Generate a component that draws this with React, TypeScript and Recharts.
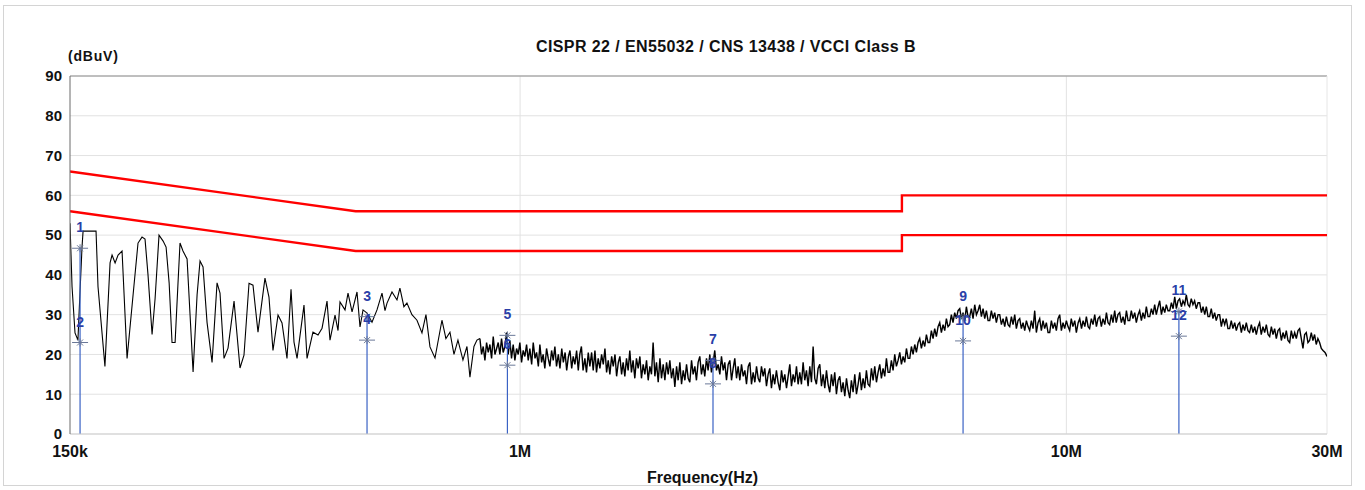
import React from 'react';
import {
    ComposedChart,
    Line,
    XAxis,
    YAxis,
    CartesianGrid,
    ReferenceLine,
    ReferenceDot
} from 'recharts';

// frequency in MHz, level in dBuV
const xTicks = [0.15, 1, 10, 30];
const xTickLabels = ['150k', '1M', '10M', '30M'];
const yTicks = [0, 10, 20, 30, 40, 50, 60, 70, 80, 90];

const qpLimit: [number, number][] = [[0.15, 66], [0.5, 56], [5, 56], [5, 60], [30, 60]];
const avLimit: [number, number][] = [[0.15, 56], [0.5, 46], [5, 46], [5, 50], [30, 50]];

// 150k - 840k, the ringing part of the scan
const traceLow: [number, number][] = [
    [0.150, 53], [0.1513, 37], [0.1532, 25.4], [0.1551, 23.6], [0.1565, 36], [0.1578, 47],
    [0.1585, 51], [0.1674, 51], [0.1688, 37], [0.1738, 17], [0.1776, 43], [0.1791, 45],
    [0.1814, 43], [0.1837, 45], [0.1868, 46], [0.1908, 19], [0.1957, 35], [0.1998, 48],
    [0.2032, 49.5], [0.2058, 49], [0.2084, 40], [0.2120, 25], [0.2147, 34], [0.2183, 50],
    [0.2221, 48.5], [0.2249, 47], [0.2278, 38], [0.2306, 23], [0.2336, 23], [0.2365, 38],
    [0.2385, 48], [0.2415, 46], [0.2457, 44], [0.2488, 30], [0.2520, 15.6], [0.2563, 35],
    [0.2595, 43.5], [0.2628, 42], [0.2673, 28], [0.2730, 18], [0.2788, 38], [0.2823, 35.4],
    [0.2871, 19], [0.2920, 21.6], [0.2995, 33.4], [0.3071, 16.6], [0.3123, 19.8], [0.3190, 37.9],
    [0.3244, 37.4], [0.3313, 25.6], [0.3412, 39.2], [0.3470, 34.4], [0.3529, 21], [0.3605, 29.9],
    [0.3666, 27.9], [0.3744, 19], [0.3808, 36.4], [0.3856, 23.1], [0.3906, 19], [0.4022, 32.4],
    [0.4074, 19], [0.4177, 25.6], [0.4267, 24.9], [0.4340, 26.6], [0.4432, 33.4], [0.4488, 23.6],
    [0.4584, 29.9], [0.4642, 26], [0.4681, 33.2], [0.4781, 31.2], [0.4842, 35.4], [0.4925, 30.7],
    [0.5029, 35.7], [0.5093, 26.9], [0.5158, 31.2], [0.5246, 30.4], [0.5357, 28.1], [0.5471, 31.2],
    [0.5588, 35.4], [0.5659, 31], [0.5707, 32.9], [0.5828, 35.7], [0.5952, 33.7], [0.6026, 36.7],
    [0.6128, 32], [0.6207, 32.9], [0.6339, 30], [0.6475, 28.6], [0.6613, 25.4], [0.6725, 30],
    [0.6840, 21.9], [0.6986, 19.1], [0.7194, 28.6], [0.7316, 24], [0.7441, 25.6], [0.7568, 20],
    [0.7696, 23.6], [0.7860, 18.6], [0.7994, 22], [0.8095, 14.3], [0.8233, 22], [0.8338, 23.6]
];

// 840k - 30M, the noise floor
const traceHigh: [number, number][] = [
    [0.8442, 24], [0.8502, 20], [0.8561, 22], [0.8622, 18.5], [0.8683, 23], [0.8744, 20.5],
    [0.8806, 22.5], [0.8868, 19], [0.8930, 24.5], [0.8994, 20], [0.9058, 21.5], [0.9120, 23],
    [0.9183, 20], [0.9248, 24], [0.9312, 20.5], [0.9379, 22], [0.9446, 25.5], [0.9512, 20],
    [0.9579, 23.5], [0.9646, 19], [0.9714, 22.5], [0.9783, 18.5], [0.9853, 21.5], [0.9922, 20],
    [0.9991, 23], [1.0062, 18], [1.0132, 21], [1.0205, 19.5], [1.0277, 22.5], [1.0349, 18.5],
    [1.042, 21.5], [1.050, 17.5], [1.057, 23], [1.065, 19], [1.072, 20.5], [1.080, 17],
    [1.087, 22.5], [1.095, 18], [1.102, 20], [1.110, 16.5], [1.118, 21.5], [1.126, 19],
    [1.134, 17], [1.142, 21], [1.150, 18.5], [1.158, 22], [1.166, 17], [1.175, 20],
    [1.183, 16.5], [1.192, 21.5], [1.200, 18], [1.209, 20.5], [1.217, 16], [1.226, 19.5],
    [1.234, 21], [1.243, 16.5], [1.251, 19.5], [1.260, 17.5], [1.269, 21], [1.278, 16],
    [1.286, 20], [1.295, 22], [1.304, 16], [1.314, 19], [1.323, 15.5], [1.333, 20.5],
    [1.342, 17], [1.352, 20.5], [1.361, 16], [1.371, 21], [1.380, 15.5], [1.390, 19],
    [1.400, 16.5], [1.410, 20], [1.420, 17.5], [1.430, 21.5], [1.440, 15.5], [1.450, 18.5],
    [1.460, 15], [1.471, 19.5], [1.481, 17], [1.492, 20], [1.502, 14.5], [1.513, 18],
    [1.523, 19.5], [1.534, 15], [1.544, 18], [1.555, 14.5], [1.566, 19], [1.577, 16],
    [1.588, 21], [1.599, 15.5], [1.610, 18.5], [1.622, 14], [1.633, 19], [1.645, 16.5],
    [1.657, 19.5], [1.668, 14], [1.680, 17.5], [1.692, 15], [1.704, 18.5], [1.716, 13.5],
    [1.728, 17], [1.740, 15], [1.752, 23], [1.765, 14.5], [1.777, 18], [1.790, 13],
    [1.803, 19], [1.815, 14], [1.828, 17.5], [1.841, 13.5], [1.854, 18], [1.867, 15],
    [1.880, 18.5], [1.893, 14], [1.907, 16.5], [1.920, 11.8], [1.934, 17], [1.947, 13.5],
    [1.961, 18], [1.975, 12.5], [1.989, 16], [2.003, 13.5], [2.017, 17.5], [2.031, 14],
    [2.045, 13], [2.060, 18.5], [2.074, 15], [2.089, 17], [2.103, 13.5], [2.118, 18],
    [2.133, 19.5], [2.148, 15], [2.163, 17.5], [2.178, 14.5], [2.194, 19], [2.209, 16],
    [2.225, 20], [2.240, 15.5], [2.256, 18], [2.272, 21], [2.288, 16], [2.304, 17.5],
    [2.321, 15], [2.337, 19.5], [2.354, 16], [2.370, 18], [2.387, 13.5], [2.404, 17.5],
    [2.421, 18.5], [2.438, 13.5], [2.455, 16.5], [2.472, 19], [2.490, 14], [2.507, 17],
    [2.525, 13.5], [2.543, 17.5], [2.561, 14.5], [2.579, 16], [2.597, 12.5], [2.616, 17],
    [2.634, 18], [2.652, 12.5], [2.671, 15.5], [2.690, 13], [2.709, 17], [2.728, 14],
    [2.747, 13], [2.766, 17], [2.786, 14.5], [2.805, 16.5], [2.825, 12], [2.845, 15],
    [2.865, 16.5], [2.885, 11.5], [2.905, 15], [2.925, 12.5], [2.946, 16], [2.967, 13],
    [2.989, 11], [3.010, 16], [3.031, 13], [3.052, 15], [3.074, 11.5], [3.095, 14.5],
    [3.117, 17.5], [3.139, 12], [3.161, 15], [3.183, 13], [3.206, 17], [3.228, 12.5],
    [3.251, 15.5], [3.274, 12.5], [3.297, 18], [3.320, 13.5], [3.344, 16], [3.367, 12],
    [3.391, 17], [3.415, 13], [3.439, 22], [3.463, 14], [3.487, 12.5], [3.512, 16.5],
    [3.537, 17.5], [3.562, 12], [3.587, 15], [3.612, 11.5], [3.638, 16], [3.663, 12.5],
    [3.689, 10.5], [3.715, 15], [3.741, 12], [3.767, 15.5], [3.794, 10], [3.821, 13.5],
    [3.848, 14.5], [3.875, 10.5], [3.902, 13], [3.930, 9.5], [3.958, 14], [3.985, 11],
    [4.013, 9], [4.041, 13.5], [4.070, 10.5], [4.099, 15], [4.128, 10], [4.157, 12.5],
    [4.186, 15.5], [4.215, 11], [4.245, 14], [4.275, 11.5], [4.305, 16], [4.335, 12.5],
    [4.366, 12], [4.397, 16.5], [4.428, 13.5], [4.459, 17], [4.491, 13], [4.522, 15.5],
    [4.554, 17.5], [4.586, 14], [4.618, 16.5], [4.651, 14.5], [4.684, 19], [4.717, 15.5],
    [4.750, 15.5], [4.783, 18.5], [4.817, 16], [4.851, 20], [4.885, 17], [4.920, 18.5],
    [4.955, 20.5], [4.990, 17.5], [5.025, 19.5], [5.060, 18], [5.096, 21.5], [5.132, 19],
    [5.168, 19], [5.204, 22], [5.241, 20], [5.278, 22.5], [5.315, 20.5], [5.352, 23],
    [5.390, 24], [5.428, 21.5], [5.466, 23.5], [5.505, 22], [5.544, 25], [5.583, 23],
    [5.622, 23], [5.661, 26], [5.701, 24], [5.741, 26.5], [5.782, 24.5], [5.823, 27],
    [5.864, 28], [5.905, 25.5], [5.947, 27.5], [5.989, 26], [6.031, 29], [6.073, 27],
    [6.116, 27.5], [6.159, 30], [6.202, 28], [6.246, 30.5], [6.290, 29], [6.335, 31],
    [6.380, 31.5], [6.425, 29], [6.470, 30.5], [6.515, 28.5], [6.561, 32], [6.607, 29.5],
    [6.654, 29.5], [6.701, 31.5], [6.748, 29], [6.796, 32.5], [6.844, 30], [6.892, 31],
    [6.941, 32.5], [6.990, 29.5], [7.039, 31.5], [7.089, 29], [7.139, 31], [7.189, 28.5],
    [7.239, 28.5], [7.290, 31], [7.341, 29], [7.393, 30.5], [7.445, 28], [7.498, 30],
    [7.551, 30], [7.605, 27.5], [7.658, 29], [7.712, 27], [7.766, 29.5], [7.821, 27.5],
    [7.876, 27], [7.932, 29.5], [7.987, 27.5], [8.044, 30], [8.100, 26.5], [8.158, 28.5],
    [8.215, 29], [8.273, 26.5], [8.331, 28], [8.390, 26], [8.449, 28.5], [8.509, 27],
    [8.568, 26], [8.629, 28.5], [8.689, 26.5], [8.751, 31], [8.812, 25.5], [8.875, 28],
    [8.937, 29], [9.000, 26], [9.063, 28.5], [9.127, 26.5], [9.191, 28], [9.257, 25.5],
    [9.322, 25.5], [9.388, 28.5], [9.454, 26.5], [9.521, 28], [9.587, 26], [9.655, 29],
    [9.723, 30], [9.792, 26], [9.860, 28], [9.930, 26.5], [10.00, 28.5], [10.07, 27],
    [10.14, 26], [10.21, 29], [10.28, 27], [10.36, 28.5], [10.43, 25.5], [10.51, 28],
    [10.58, 29], [10.66, 26.5], [10.73, 28.5], [10.81, 27], [10.88, 29.5], [10.96, 27],
    [11.03, 26.5], [11.11, 29], [11.19, 27.5], [11.27, 30], [11.35, 27], [11.43, 29],
    [11.51, 29.5], [11.59, 27], [11.67, 29], [11.76, 27.5], [11.84, 30.5], [11.92, 28],
    [12.00, 27.5], [12.09, 30], [12.17, 28], [12.26, 31], [12.34, 28], [12.43, 30],
    [12.52, 30.5], [12.61, 28], [12.70, 29.5], [12.79, 27.5], [12.88, 31], [12.97, 28.5],
    [13.06, 28.5], [13.15, 31], [13.24, 29], [13.34, 30.5], [13.43, 28], [13.53, 30],
    [13.62, 31], [13.72, 28.5], [13.81, 30.5], [13.91, 29], [14.01, 32], [14.11, 29.5],
    [14.21, 29.5], [14.31, 31.5], [14.41, 30], [14.51, 32.5], [14.61, 30], [14.72, 32],
    [14.82, 33.5], [14.93, 30], [15.03, 32], [15.14, 30.5], [15.24, 32.5], [15.35, 31],
    [15.46, 31], [15.57, 33], [15.68, 31.5], [15.79, 34.5], [15.90, 31.5], [16.01, 33.5],
    [16.12, 34], [16.24, 32], [16.35, 33.5], [16.47, 32.5], [16.58, 35], [16.70, 32.5],
    [16.81, 32], [16.93, 34], [17.05, 32.5], [17.17, 33.5], [17.29, 31.5], [17.42, 33],
    [17.54, 33], [17.67, 30.5], [17.79, 32], [17.92, 30], [18.04, 32], [18.17, 29.5],
    [18.29, 29.5], [18.42, 31.5], [18.55, 29], [18.68, 30.5], [18.81, 28.5], [18.95, 30],
    [19.08, 30], [19.22, 27], [19.35, 29], [19.49, 27.5], [19.62, 29], [19.76, 26.5],
    [19.90, 26.5], [20.04, 28.5], [20.18, 26.5], [20.33, 28], [20.47, 26], [20.62, 27.5],
    [20.76, 28], [20.91, 25.5], [21.05, 27.5], [21.20, 26], [21.35, 28], [21.50, 26],
    [21.65, 25.5], [21.81, 27.5], [21.96, 25.5], [22.12, 27], [22.27, 25], [22.43, 27],
    [22.58, 28], [22.74, 25], [22.90, 27], [23.07, 25.5], [23.23, 27.5], [23.40, 25],
    [23.56, 24.5], [23.73, 27], [23.89, 25], [24.06, 26.5], [24.23, 24], [24.40, 26],
    [24.57, 26.5], [24.75, 23.5], [24.92, 25.5], [25.10, 24], [25.27, 26], [25.45, 23.5],
    [25.63, 23], [25.81, 26], [25.99, 24], [26.18, 25.5], [26.36, 24], [26.55, 26],
    [26.73, 26.5], [26.92, 24], [27.11, 21.5], [27.30, 25], [27.49, 25.5], [27.69, 23],
    [27.88, 23.5], [28.08, 25.5], [28.27, 23.5], [28.47, 25], [28.67, 22.5], [28.87, 24],
    [29.08, 23], [29.29, 21.5], [29.50, 21], [29.75, 20.5], [30.00, 19.5]
];

// marker pairs: odd = QP reading, even = AV reading at the same frequency
const markerFreqs = [0.1565, 0.5246, 0.948, 2.255, 6.47, 16.07];
const markerQP = [46.7, 29.5, 24.8, 18.5, 29.3, 30.8];
const markerAV = [23.0, 23.6, 17.3, 12.6, 23.4, 24.6];

const toRows = (pts: [number, number][]) => pts.map(([f, v]) => ({ f, v }));
// low part ends on the first noise-floor point so the two strokes join
const lowData = toRows([...traceLow, traceHigh[0]]);
const highData = toRows(traceHigh);
const qpData = toRows(qpLimit);
const avData = toRows(avLimit);

const FONT = "'Liberation Sans', Arial, sans-serif";
const MARKER_BLUE = '#3a62c4';
const LABEL_BLUE = '#2a3fa8';

const Star = (props: any) => {
    const { cx, cy } = props;
    if (cx == null || cy == null) return null;
    return (
        <g stroke="#6a7898" strokeWidth={1}>
            <line x1={cx - 8} y1={cy} x2={cx + 8} y2={cy} />
            <line x1={cx - 3} y1={cy - 3} x2={cx + 3} y2={cy + 3} />
            <line x1={cx - 3} y1={cy + 3} x2={cx + 3} y2={cy - 3} />
            <line x1={cx} y1={cy - 4} x2={cx} y2={cy + 4} />
        </g>
    );
};

const App: React.FC = () => {
    const markerLabel = (n: number) => ({
        value: String(n),
        position: 'top' as const,
        offset: 12,
        fill: LABEL_BLUE,
        fontSize: 14,
        fontWeight: 'bold',
        fontFamily: FONT
    });

    return (
        <div style={{ position: 'absolute', left: 0, top: 0, width: 1365, height: 490, background: '#fff', fontFamily: FONT }}>
            <div style={{ position: 'absolute', left: 3, top: 5, width: 1349, height: 481, border: '1px solid #d4d4d4', boxSizing: 'border-box' }} />
            <div style={{ position: 'absolute', left: 536, top: 38, fontSize: 16, letterSpacing: 0.4, fontWeight: 'bold', color: '#111', whiteSpace: 'nowrap' }}>
                CISPR 22 / EN55032 / CNS 13438 / VCCI Class B
            </div>
            <div style={{ position: 'absolute', left: 68, top: 48, fontSize: 14, letterSpacing: 0.8, fontWeight: 'bold', color: '#111' }}>
                (dBuV)
            </div>
            <div style={{ position: 'absolute', left: 0, width: 1405, top: 469, textAlign: 'center', fontSize: 16, fontWeight: 'bold', color: '#111' }}>
                Frequency(Hz)
            </div>
            <div style={{ position: 'absolute', left: 0, top: 0 }}>
                <ComposedChart width={1365} height={490} margin={{ top: 76, right: 38, bottom: 26, left: 30 }}>
                    <CartesianGrid vertical={false} stroke="#e2e2e2" />
                    <XAxis
                        dataKey="f"
                        type="number"
                        scale="log"
                        domain={[0.15, 30]}
                        allowDataOverflow
                        ticks={xTicks}
                        tickFormatter={(v: number) => xTickLabels[xTicks.indexOf(v)] ?? ''}
                        height={30}
                        tickLine={false}
                        tickMargin={6}
                        axisLine={{ stroke: '#cfcfcf' }}
                        tick={{ fill: '#111', fontSize: 16, fontWeight: 'bold', fontFamily: FONT }}
                    />
                    <YAxis
                        type="number"
                        domain={[0, 90]}
                        ticks={yTicks}
                        width={40}
                        tickLine={false}
                        axisLine={{ stroke: '#6a6a6a' }}
                        tick={{ fill: '#111', fontSize: 15, fontWeight: 'bold', fontFamily: FONT }}
                    />
                    <ReferenceLine x={1} stroke="#e2e2e2" />
                    <ReferenceLine x={10} stroke="#e2e2e2" />
                    <ReferenceLine y={90} stroke="#8c8c8c" />
                    <ReferenceLine x={30} stroke="#e6e6e6" />

                    <Line data={qpData} dataKey="v" type="linear" stroke="#ff0000" strokeWidth={2.4} dot={false} isAnimationActive={false} />
                    <Line data={avData} dataKey="v" type="linear" stroke="#ff0000" strokeWidth={2.4} dot={false} isAnimationActive={false} />
                    <Line data={lowData} dataKey="v" type="linear" stroke="#000" strokeWidth={1.1} dot={false} isAnimationActive={false} />
                    <Line data={highData} dataKey="v" type="linear" stroke="#000" strokeWidth={1.4} dot={false} isAnimationActive={false} />

                    {markerFreqs.map((f, i) => (
                        <ReferenceLine
                            key={`ml${i}`}
                            segment={[{ x: f, y: 0 }, { x: f, y: markerQP[i] }]}
                            stroke={MARKER_BLUE}
                            strokeWidth={1.2}
                        />
                    ))}
                    {markerFreqs.map((f, i) => (
                        <ReferenceDot
                            key={`qp${i}`}
                            x={f}
                            y={markerQP[i]}
                            r={4}
                            shape={Star}
                            label={markerLabel(i * 2 + 1)}
                        />
                    ))}
                    {markerFreqs.map((f, i) => (
                        <ReferenceDot
                            key={`av${i}`}
                            x={f}
                            y={markerAV[i]}
                            r={4}
                            shape={Star}
                            label={markerLabel(i * 2 + 2)}
                        />
                    ))}
                </ComposedChart>
            </div>
        </div>
    );
};

export default App;
